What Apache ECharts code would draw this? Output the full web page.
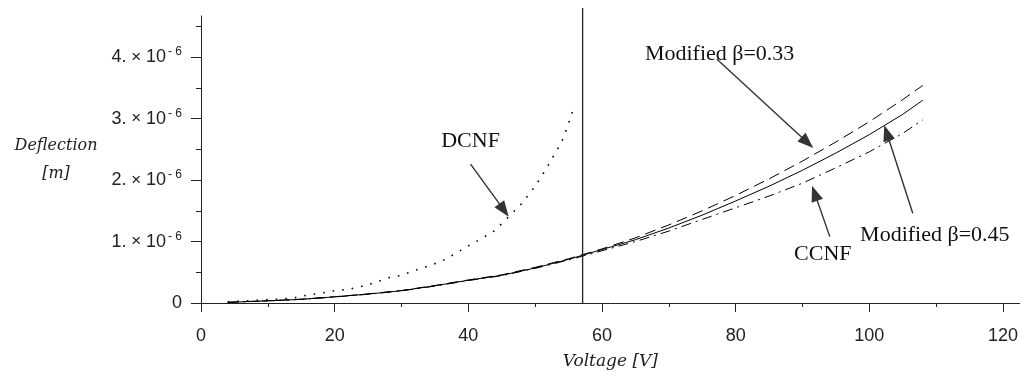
<!DOCTYPE html>
<html>
<head>
<meta charset="utf-8">
<script src="https://cdn.jsdelivr.net/npm/echarts@6/dist/echarts.min.js"></script>
<style>
html,body{margin:0;padding:0;background:#fff;}
#main{width:1021px;height:375px;}
</style>
</head>
<body>
<div id="main"></div>
<script>
// ---- Data (deflection in units of 1e-6 m) ----
var dcnfV = [4,6,8,10,12,14,16,18,20,22,24,26,28,30,32,34,36,38,40,42,44,46,48,50,51,52,53,54,54.8,55.4,55.9];
var dcnfD = [0.02,0.03,0.04,0.055,0.065,0.085,0.13,0.16,0.2,0.22,0.27,0.33,0.41,0.45,0.53,0.6,0.68,0.8,0.93,1.05,1.18,1.4,1.62,1.9,2.07,2.25,2.44,2.63,2.86,3.05,3.22];

var mainV  = [4,5,10,15,20,25,30,35,40,45,50,55,60,65,70,75,80,85,90,95,100,105,108];
var beta045D = [0.01,0.015,0.035,0.06,0.1,0.145,0.2,0.28,0.37,0.45,0.57,0.71,0.87,1.03,1.22,1.43,1.66,1.9,2.16,2.44,2.74,3.07,3.30];
var beta033D = [0.01,0.016,0.036,0.062,0.102,0.148,0.204,0.285,0.375,0.458,0.58,0.72,0.88,1.06,1.27,1.5,1.75,2.02,2.31,2.62,2.95,3.31,3.54];
var ccnfD    = [0.01,0.014,0.034,0.058,0.098,0.142,0.197,0.275,0.365,0.445,0.563,0.7,0.85,1.0,1.17,1.36,1.55,1.74,1.95,2.2,2.46,2.76,2.98];

var limitV = 57.1;
var limitTop = 4.8;

var xMajorTicks = [0,20,40,60,80,100,120];
var xMinorTicks = [10,30,50,70,90,110];
var yMajorTicks = [0,1,2,3,4];
var yMinorTicks = [0.5,1.5,2.5,3.5,4.5];

// annotations: [text, textX, textY, arrowFromX, arrowFromY, arrowToX, arrowToY]
var annDCNF   = ['DCNF', 40.33, 2.64, 40.33, 2.26, 45.34, 1.51];
var annBeta033 = ['Modified \u03b2=0.33', 77.6, 4.05, 77.17, 3.97, 90.73, 2.61];
var annCCNF   = ['CCNF', 93.04, 0.795, 94.09, 1.08, 91.82, 1.785];
var annBeta045 = ['Modified \u03b2=0.45', 109.8, 1.11, 106.5, 1.46, 102.6, 2.77];
var annotations = [annDCNF, annBeta033, annCCNF, annBeta045];

function zip(a, b) { return a.map(function (v, i) { return [v, b[i]]; }); }

var numFont = '"Liberation Sans","Arial",sans-serif';
var nameFont = '"DejaVu Serif","Liberation Serif",serif';
var annFont = '"Liberation Serif","Times New Roman",serif';
var ink = '#222';

var chart = echarts.init(document.getElementById('main'), null, {renderer: 'canvas'});

var option = {
  animation: false,
  backgroundColor: '#fff',
  grid: {left: 201, right: 1, top: 16, bottom: 65, containLabel: false},
  xAxis: [{
    type: 'value', min: 0, max: 122.5, position: 'bottom',
    name: 'Voltage [V]', nameLocation: 'middle', nameGap: 50,
    nameTextStyle: {fontFamily: nameFont, fontStyle: 'italic', fontSize: 17, color: ink},
    axisLine: {show: true, onZero: false, lineStyle: {color: ink, width: 1}},
    axisTick: {show: true, inside: false, length: 9, customValues: xMajorTicks, lineStyle: {color: ink}},
    axisLabel: {show: true, customValues: xMajorTicks, margin: 24, fontFamily: numFont, fontSize: 18, color: ink},
    splitLine: {show: false}
  }, {
    type: 'value', min: 0, max: 122.5, position: 'bottom', gridIndex: 0,
    axisLine: {show: false},
    axisTick: {show: true, inside: false, length: 4, customValues: xMinorTicks, lineStyle: {color: ink}},
    axisLabel: {show: false},
    splitLine: {show: false}
  }],
  yAxis: [{
    type: 'value', min: 0, max: 4.67, position: 'left',
    name: 'Deflection\n[m]', nameLocation: 'middle', nameGap: 145, nameRotate: 0,
    nameTextStyle: {fontFamily: nameFont, fontStyle: 'italic', fontSize: 16, color: ink, align: 'center', verticalAlign: 'middle', lineHeight: 28},
    axisLine: {show: true, onZero: false, lineStyle: {color: ink, width: 1}},
    axisTick: {show: true, inside: false, length: 10, customValues: yMajorTicks, lineStyle: {color: ink}},
    axisLabel: {
      show: true, customValues: yMajorTicks, margin: 19,
      formatter: function (v) {
        if (v === 0) return '{a|0}';
        return '{a|' + v + '.}{x| \u00d7 }{a|10}{s|- 6}';
      },
      rich: {
        a: {fontFamily: numFont, fontSize: 18, color: ink, lineHeight: 22},
        x: {fontFamily: numFont, fontSize: 17, color: ink, lineHeight: 22},
        s: {fontFamily: numFont, fontSize: 12, color: ink, verticalAlign: 'top', lineHeight: 22, padding: [0, 0, 10, 2]}
      }
    },
    splitLine: {show: false}
  }, {
    type: 'value', min: 0, max: 4.67, position: 'left', gridIndex: 0,
    axisLine: {show: false},
    axisTick: {show: true, inside: false, length: 5, customValues: yMinorTicks, lineStyle: {color: ink}},
    axisLabel: {show: false},
    splitLine: {show: false}
  }],
  series: [
    {
      name: 'DCNF', type: 'line', xAxisIndex: 0, yAxisIndex: 0, showSymbol: false, symbol: 'none',
      data: zip(dcnfV, dcnfD),
      lineStyle: {color: '#000', width: 1.6, type: [1.6, 8]}
    },
    {
      name: 'Modified \u03b2=0.33', type: 'line', xAxisIndex: 0, yAxisIndex: 0, showSymbol: false, symbol: 'none',
      data: zip(mainV, beta033D),
      lineStyle: {color: '#000', width: 1, type: [11, 6]}
    },
    {
      name: 'Modified \u03b2=0.45', type: 'line', xAxisIndex: 0, yAxisIndex: 0, showSymbol: false, symbol: 'none',
      data: zip(mainV, beta045D),
      lineStyle: {color: '#000', width: 1, type: 'solid'}
    },
    {
      name: 'CCNF', type: 'line', xAxisIndex: 0, yAxisIndex: 0, showSymbol: false, symbol: 'none',
      data: zip(mainV, ccnfD),
      lineStyle: {color: '#000', width: 1, type: [10, 5, 2, 5]}
    },
    {
      name: 'limit', type: 'line', xAxisIndex: 0, yAxisIndex: 0, showSymbol: false, symbol: 'none', clip: false,
      data: [[limitV, 0], [limitV, limitTop]],
      lineStyle: {color: ink, width: 1.3, type: 'solid'},
      markLine: {
        silent: true, symbol: ['none', 'triangle'], symbolSize: [12, 16],
        lineStyle: {color: '#333', width: 1.4, type: 'solid'},
        label: {show: false},
        data: annotations.map(function (a) {
          return [{coord: [a[3], a[4]]}, {coord: [a[5], a[6]]}];
        })
      },
      markPoint: {
        silent: true, symbol: 'rect', symbolSize: 1, itemStyle: {color: 'rgba(0,0,0,0)'},
        label: {show: true, position: 'inside', fontFamily: annFont, fontSize: 22, color: '#111',
          formatter: function (p) { return p.name; }},
        data: annotations.map(function (a) {
          return {name: a[0], coord: [a[1], a[2]]};
        })
      }
    }
  ]
};
chart.setOption(option);
</script>
</body>
</html>
